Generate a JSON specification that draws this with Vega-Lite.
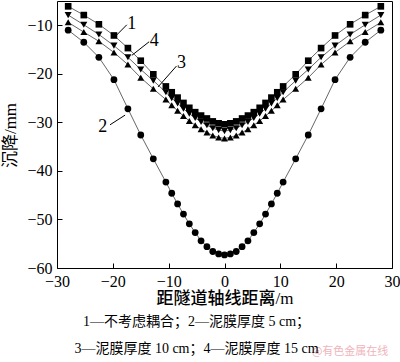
{
  "$schema": "https://vega.github.io/schema/vega-lite/v6.json",
  "width": 335,
  "height": 267,
  "autosize": {"type": "none"},
  "padding": {"left": 57, "top": 1, "right": 8, "bottom": 94},
  "background": "white",
  "config": {
    "view": {"stroke": "black", "strokeWidth": 1},
    "font": "'Liberation Serif', 'Noto Sans CJK SC'",
    "axis": {"grid": false, "domain": false}
  },
  "title": {
    "text": ["1—不考虑耦合；2—泥膜厚度 5 cm；", "3—泥膜厚度 10 cm；4—泥膜厚度 15 cm"],
    "orient": "bottom",
    "anchor": "middle",
    "font": "'Liberation Serif', 'Noto Sans CJK SC'",
    "fontSize": 14,
    "fontWeight": "normal",
    "color": "black",
    "lineHeight": 27,
    "dx": -28,
    "offset": -42
  },
  "datasets": {
    "curves": [
      {"c": "2", "x": -28, "y": -11.0}, {"c": "2", "x": -25.2, "y": -13.5}, {"c": "2", "x": -22.5, "y": -16.6}, {"c": "2", "x": -19.8, "y": -21.2}, {"c": "2", "x": -17.3, "y": -27.2}, {"c": "2", "x": -15, "y": -32.6}, {"c": "2", "x": -12.75, "y": -37.5}, {"c": "2", "x": -10.5, "y": -42.3}, {"c": "2", "x": -9.45, "y": -44.6}, {"c": "2", "x": -8.4, "y": -46.8}, {"c": "2", "x": -7.35, "y": -48.9}, {"c": "2", "x": -6.3, "y": -50.9}, {"c": "2", "x": -5.25, "y": -52.7}, {"c": "2", "x": -4.2, "y": -54.4}, {"c": "2", "x": -3.15, "y": -55.6}, {"c": "2", "x": -2.1, "y": -56.6}, {"c": "2", "x": -1.05, "y": -57.1}, {"c": "2", "x": 0, "y": -57.3}, {"c": "2", "x": 1.05, "y": -57.1}, {"c": "2", "x": 2.1, "y": -56.6}, {"c": "2", "x": 3.15, "y": -55.6}, {"c": "2", "x": 4.2, "y": -54.4}, {"c": "2", "x": 5.25, "y": -52.7}, {"c": "2", "x": 6.3, "y": -50.9}, {"c": "2", "x": 7.35, "y": -48.9}, {"c": "2", "x": 8.4, "y": -46.8}, {"c": "2", "x": 9.45, "y": -44.6}, {"c": "2", "x": 10.5, "y": -42.3}, {"c": "2", "x": 12.75, "y": -37.5}, {"c": "2", "x": 15, "y": -32.6}, {"c": "2", "x": 17.3, "y": -27.2}, {"c": "2", "x": 19.8, "y": -21.2}, {"c": "2", "x": 22.5, "y": -16.6}, {"c": "2", "x": 25.2, "y": -13.5}, {"c": "2", "x": 28, "y": -11.0},
      {"c": "1", "x": -28, "y": -6.1}, {"c": "1", "x": -25.2, "y": -7.9}, {"c": "1", "x": -22.5, "y": -9.8}, {"c": "1", "x": -19.8, "y": -12.1}, {"c": "1", "x": -17.3, "y": -14.7}, {"c": "1", "x": -15, "y": -17.3}, {"c": "1", "x": -12.75, "y": -20.1}, {"c": "1", "x": -10.5, "y": -22.6}, {"c": "1", "x": -9.45, "y": -23.8}, {"c": "1", "x": -8.4, "y": -24.9}, {"c": "1", "x": -7.35, "y": -26.0}, {"c": "1", "x": -6.3, "y": -27.0}, {"c": "1", "x": -5.25, "y": -27.9}, {"c": "1", "x": -4.2, "y": -28.6}, {"c": "1", "x": -3.15, "y": -29.2}, {"c": "1", "x": -2.1, "y": -29.8}, {"c": "1", "x": -1.05, "y": -30.2}, {"c": "1", "x": 0, "y": -30.4}, {"c": "1", "x": 1.05, "y": -30.2}, {"c": "1", "x": 2.1, "y": -29.8}, {"c": "1", "x": 3.15, "y": -29.2}, {"c": "1", "x": 4.2, "y": -28.6}, {"c": "1", "x": 5.25, "y": -27.9}, {"c": "1", "x": 6.3, "y": -27.0}, {"c": "1", "x": 7.35, "y": -26.0}, {"c": "1", "x": 8.4, "y": -24.9}, {"c": "1", "x": 9.45, "y": -23.8}, {"c": "1", "x": 10.5, "y": -22.6}, {"c": "1", "x": 12.75, "y": -20.1}, {"c": "1", "x": 15, "y": -17.3}, {"c": "1", "x": 17.3, "y": -14.7}, {"c": "1", "x": 19.8, "y": -12.1}, {"c": "1", "x": 22.5, "y": -9.8}, {"c": "1", "x": 25.2, "y": -7.9}, {"c": "1", "x": 28, "y": -6.1},
      {"c": "4", "x": -28, "y": -7.9}, {"c": "4", "x": -25.2, "y": -9.9}, {"c": "4", "x": -22.5, "y": -11.9}, {"c": "4", "x": -19.8, "y": -14.2}, {"c": "4", "x": -17.3, "y": -16.6}, {"c": "4", "x": -15, "y": -19.1}, {"c": "4", "x": -12.75, "y": -21.4}, {"c": "4", "x": -10.5, "y": -23.8}, {"c": "4", "x": -9.45, "y": -25.0}, {"c": "4", "x": -8.4, "y": -26.1}, {"c": "4", "x": -7.35, "y": -27.2}, {"c": "4", "x": -6.3, "y": -28.2}, {"c": "4", "x": -5.25, "y": -29.1}, {"c": "4", "x": -4.2, "y": -29.9}, {"c": "4", "x": -3.15, "y": -30.6}, {"c": "4", "x": -2.1, "y": -31.2}, {"c": "4", "x": -1.05, "y": -31.6}, {"c": "4", "x": 0, "y": -31.8}, {"c": "4", "x": 1.05, "y": -31.6}, {"c": "4", "x": 2.1, "y": -31.2}, {"c": "4", "x": 3.15, "y": -30.6}, {"c": "4", "x": 4.2, "y": -29.9}, {"c": "4", "x": 5.25, "y": -29.1}, {"c": "4", "x": 6.3, "y": -28.2}, {"c": "4", "x": 7.35, "y": -27.2}, {"c": "4", "x": 8.4, "y": -26.1}, {"c": "4", "x": 9.45, "y": -25.0}, {"c": "4", "x": 10.5, "y": -23.8}, {"c": "4", "x": 12.75, "y": -21.4}, {"c": "4", "x": 15, "y": -19.1}, {"c": "4", "x": 17.3, "y": -16.6}, {"c": "4", "x": 19.8, "y": -14.2}, {"c": "4", "x": 22.5, "y": -11.9}, {"c": "4", "x": 25.2, "y": -9.9}, {"c": "4", "x": 28, "y": -7.9},
      {"c": "3", "x": -28, "y": -9.4}, {"c": "3", "x": -25.2, "y": -11.4}, {"c": "3", "x": -22.5, "y": -13.3}, {"c": "3", "x": -19.8, "y": -15.6}, {"c": "3", "x": -17.3, "y": -18.1}, {"c": "3", "x": -15, "y": -20.8}, {"c": "3", "x": -12.75, "y": -23.1}, {"c": "3", "x": -10.5, "y": -25.3}, {"c": "3", "x": -9.45, "y": -26.5}, {"c": "3", "x": -8.4, "y": -27.6}, {"c": "3", "x": -7.35, "y": -28.7}, {"c": "3", "x": -6.3, "y": -29.7}, {"c": "3", "x": -5.25, "y": -30.6}, {"c": "3", "x": -4.2, "y": -31.4}, {"c": "3", "x": -3.15, "y": -32.1}, {"c": "3", "x": -2.1, "y": -32.7}, {"c": "3", "x": -1.05, "y": -33.1}, {"c": "3", "x": 0, "y": -33.3}, {"c": "3", "x": 1.05, "y": -33.1}, {"c": "3", "x": 2.1, "y": -32.7}, {"c": "3", "x": 3.15, "y": -32.1}, {"c": "3", "x": 4.2, "y": -31.4}, {"c": "3", "x": 5.25, "y": -30.6}, {"c": "3", "x": 6.3, "y": -29.7}, {"c": "3", "x": 7.35, "y": -28.7}, {"c": "3", "x": 8.4, "y": -27.6}, {"c": "3", "x": 9.45, "y": -26.5}, {"c": "3", "x": 10.5, "y": -25.3}, {"c": "3", "x": 12.75, "y": -23.1}, {"c": "3", "x": 15, "y": -20.8}, {"c": "3", "x": 17.3, "y": -18.1}, {"c": "3", "x": 19.8, "y": -15.6}, {"c": "3", "x": 22.5, "y": -13.3}, {"c": "3", "x": 25.2, "y": -11.4}, {"c": "3", "x": 28, "y": -9.4}
    ],
    "labels": [
      {"t": "1", "x": -16.6, "y": -9.7, "x1": -17.5, "y1": -9.9, "x2": -19.3, "y2": -12.0},
      {"t": "4", "x": -12.6, "y": -13.3, "x1": -13.5, "y1": -13.4, "x2": -16.6, "y2": -16.2},
      {"t": "3", "x": -7.7, "y": -17.7, "x1": -8.6, "y1": -18.4, "x2": -11.9, "y2": -22.7},
      {"t": "2", "x": -21.8, "y": -30.9, "x1": -20.5, "y1": -30.5, "x2": -17.8, "y2": -28.5}
    ],
    "mark": [
      {"t": "@有色金属在线", "x": 22.5, "y": -77.3}
    ]
  },
  "layer": [
    {
      "data": {"name": "curves"},
      "mark": {"type": "line", "stroke": "#555555", "strokeWidth": 0.9},
      "encoding": {
        "x": {"field": "x", "type": "quantitative", "scale": {"domain": [-30, 30], "nice": false},
          "axis": {"values": [-30, -20, -10, 0, 10, 20, 30], "tickSize": -5, "tickColor": "black", "labelPadding": 10, "labelFontSize": 16, "labelColor": "black", "labelFont": "'Liberation Serif'", "title": "距隧道轴线距离/m", "titleFontSize": 17, "titleFontWeight": 500, "titleColor": "black", "titleBaseline": "middle", "titleY": 30, "labelFlush": false}},
        "y": {"field": "y", "type": "quantitative", "scale": {"domain": [-60, -5], "nice": false},
          "axis": {"values": [-60, -50, -40, -30, -20, -10], "tickSize": -5, "tickColor": "black", "labelPadding": 10, "labelFontSize": 16, "labelColor": "black", "labelFont": "'Liberation Serif'", "title": "沉降/mm", "titleFontSize": 17, "titleFontWeight": "normal", "titleColor": "black", "titleBaseline": "middle", "titleX": -47, "titleY": 134, "labelFlush": false}},
        "detail": {"field": "c"}
      }
    },
    {
      "data": {"name": "curves"},
      "mark": {"type": "point", "filled": true, "opacity": 1, "color": "black"},
      "encoding": {
        "x": {"field": "x", "type": "quantitative"},
        "y": {"field": "y", "type": "quantitative"},
        "shape": {"field": "c", "type": "nominal", "legend": null,
          "scale": {"domain": ["1", "2", "3", "4"], "range": ["square", "circle", "triangle-up", "triangle-down"]}},
        "size": {"field": "c", "type": "nominal", "legend": null,
          "scale": {"domain": ["1", "2", "3", "4"], "range": [44, 50, 58, 58]}}
      }
    },
    {
      "data": {"name": "labels"},
      "mark": {"type": "rule", "color": "black", "strokeWidth": 1},
      "encoding": {
        "x": {"field": "x1", "type": "quantitative"},
        "y": {"field": "y1", "type": "quantitative"},
        "x2": {"field": "x2"},
        "y2": {"field": "y2"}
      }
    },
    {
      "data": {"name": "labels"},
      "mark": {"type": "text", "font": "'Liberation Serif'", "fontSize": 18, "color": "black", "align": "center", "baseline": "middle"},
      "encoding": {
        "x": {"field": "x", "type": "quantitative"},
        "y": {"field": "y", "type": "quantitative"},
        "text": {"field": "t"}
      }
    },
    {
      "data": {"name": "mark"},
      "mark": {"type": "text", "font": "'Noto Sans CJK SC'", "fontSize": 11, "color": "#f0b4bc", "align": "center", "baseline": "middle", "clip": false},
      "encoding": {
        "x": {"field": "x", "type": "quantitative"},
        "y": {"field": "y", "type": "quantitative"},
        "text": {"field": "t"}
      }
    }
  ]
}
